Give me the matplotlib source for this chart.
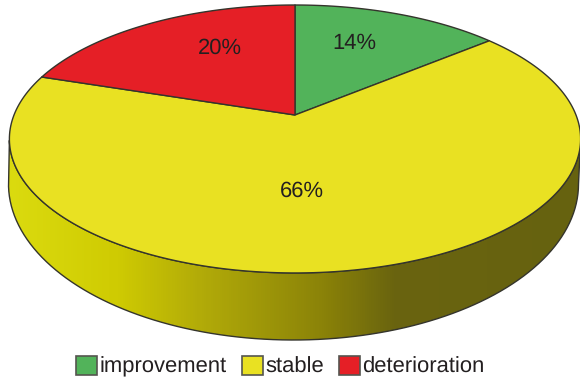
import numpy as np
import matplotlib
matplotlib.use("Agg")
import matplotlib.pyplot as plt
from matplotlib.patches import Patch, PathPatch
from matplotlib.path import Path
from matplotlib.colors import LinearSegmentedColormap

labels = ["improvement", "stable", "deterioration"]
shares = [14, 66, 20]
colors = ["#52b35a", "#e9e122", "#e51f26"]

plt.rcParams["font.family"] = ["Liberation Sans", "DejaVu Sans"]
plt.rcParams["text.hinting"] = "no_hinting"
plt.rcParams["text.hinting_factor"] = 1
TEXT = "#231f20"
EDGE = "#34342c"


# tilted disc: circle seen in perspective, so the apex sits above the ellipse middle
def disc(theta):
    u, v = np.sin(theta), np.cos(theta)
    d = 1 + 0.179 * v
    return 295 + 281 * u / d, (115 - 109.1 * v) / d


fig = plt.figure(figsize=(5.8, 3.79), dpi=100)
ax = fig.add_axes([0, 0, 1, 1])
ax.set_xlim(0, 580)
ax.set_ylim(379, 0)
ax.axis("off")

# rim: lower half of the disc edge down to the bottom ellipse
t = np.linspace(np.pi / 2 + 0.19, 3 * np.pi / 2 - 0.19, 200)
top_x, top_y = disc(t)
s = np.linspace(np.pi, 0, 200)
low_x = 293.5 + 285 * np.cos(s)
low_y = 184 + 156 * np.sin(s)
rim = Path(np.c_[np.r_[top_x, low_x, top_x[0]], np.r_[top_y, low_y, top_y[0]]])
ax.add_patch(PathPatch(rim, facecolor="none", edgecolor=EDGE, lw=1.0, zorder=3))

shade = LinearSegmentedColormap.from_list(
    "rim",
    [(0, "#dcdc10"), (0.2, "#cfcb02"), (0.33, "#b5ae08"), (0.56, "#8a8208"),
     (0.68, "#6a640f"), (1, "#66620f")],
)
grad = ax.imshow(np.linspace(0, 1, 580)[None, :], cmap=shade, extent=(0, 580, 379, 0),
                 aspect="auto", zorder=2)
grad.set_clip_path(PathPatch(rim, transform=ax.transData))

# top face, clockwise from twelve o'clock
start = 0.0
for share, col in zip(shares, colors):
    end = start + share / sum(shares) * 2 * np.pi
    a = np.linspace(start, end, 200)
    x, y = disc(a)
    ax.fill(np.r_[295, x], np.r_[115, y], facecolor=col, edgecolor=EDGE, lw=1.0,
            joinstyle="round", zorder=4)
    start = end

# value labels
ax.text(354, 43.5, f"{shares[0]}%", ha="center", va="center", fontsize=15.6, color=TEXT, zorder=5)
ax.text(302, 191, f"{shares[1]}%", ha="center", va="center", fontsize=15.6, color=TEXT, zorder=5)
ax.text(220, 48.5, f"{shares[2]}%", ha="center", va="center", fontsize=15.6, color=TEXT, zorder=5)

handles = [Patch(facecolor=c, edgecolor="#55554f", lw=1.2) for c in colors]
ax.legend(handles, labels, ncol=3, loc="center", bbox_to_anchor=(280.5 / 580, 1 - 366.5 / 379),
          frameon=False, fontsize=15.5, labelcolor=TEXT, handlelength=0.97, handleheight=0.97,
          handletextpad=0.12, columnspacing=0.7, borderpad=0, borderaxespad=0)

fig.savefig("out.png", dpi=100)
